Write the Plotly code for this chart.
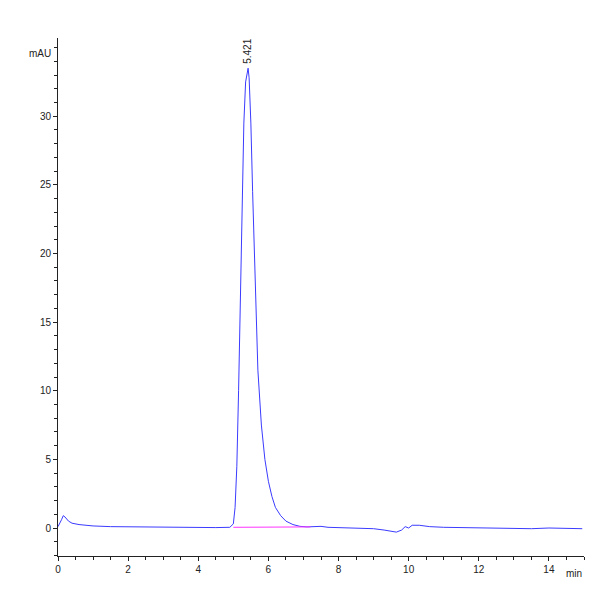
import plotly.graph_objects as go

time_min = [0.0, 0.05, 0.1, 0.15, 0.2, 0.3, 0.4, 0.6, 0.8, 1.0, 1.5, 2.0, 3.0, 4.0, 4.5, 4.9, 5.0, 5.05, 5.1, 5.15, 5.2, 5.25, 5.3, 5.35, 5.4, 5.421, 5.45, 5.5, 5.55, 5.6, 5.65, 5.7, 5.8, 5.9, 6.0, 6.1, 6.2, 6.35, 6.5, 6.7, 6.9, 7.1, 7.3, 7.5, 7.7, 8.0, 8.5, 9.0, 9.3, 9.5, 9.65, 9.8, 9.9, 10.0, 10.1, 10.3, 10.6, 11.0, 12.0, 13.0, 13.5, 14.0, 14.5, 14.95]
signal_mau = [0.1, 0.3, 0.6, 0.9, 0.8, 0.5, 0.35, 0.25, 0.2, 0.15, 0.1, 0.08, 0.05, 0.05, 0.03, 0.05, 0.3, 1.5, 4.5, 10.0, 17.0, 24.0, 29.5, 32.5, 33.4, 33.5, 32.8, 29.5, 24.5, 19.5, 15.0, 11.5, 7.5, 5.0, 3.4, 2.3, 1.5, 0.9, 0.5, 0.25, 0.12, 0.08, 0.1, 0.12, 0.05, 0.02, 0.0, -0.05, -0.15, -0.25, -0.3, -0.15, 0.1, 0.0, 0.2, 0.2, 0.1, 0.05, 0.03, 0.0, -0.05, 0.0, -0.05, -0.05]
baseline_t = [5.0, 7.2]
baseline_v = [0.05, 0.08]
peak_label = "5.421"
peak_t = 5.421
peak_v = 33.5

fig = go.Figure()
fig.add_trace(go.Scatter(x=time_min, y=signal_mau, mode="lines",
                         line=dict(color="#3b3bff", width=1), hoverinfo="skip"))
fig.add_trace(go.Scatter(x=baseline_t, y=baseline_v, mode="lines",
                         line=dict(color="#ff33ff", width=1), hoverinfo="skip"))
fig.add_annotation(x=peak_t, y=peak_v, text=peak_label, textangle=-90, showarrow=False,
                   yanchor="bottom", xanchor="center", yshift=2,
                   font=dict(family="Arial", size=10, color="#222"))
fig.add_annotation(xref="paper", yref="paper", x=0, y=0.985, text="mAU", showarrow=False,
                   xanchor="right", xshift=-5, font=dict(family="Arial", size=10, color="#222"))
fig.add_annotation(xref="paper", yref="paper", x=1, y=0, text="min", showarrow=False,
                   xanchor="right", yanchor="top", yshift=-10, font=dict(family="Arial", size=10, color="#222"))

axis_common = dict(showgrid=False, zeroline=False, showline=True, linecolor="#222", linewidth=1,
                   ticks="outside", ticklen=4, tickcolor="#222", automargin=False,
                   tickfont=dict(family="Arial", size=10, color="#222"))
fig.update_xaxes(range=[0, 15.0], tickvals=[0, 2, 4, 6, 8, 10, 12, 14],
                 minor=dict(dtick=0.5, ticks="outside", ticklen=3, tickcolor="#222"), **axis_common)
fig.update_yaxes(range=[-2.04, 35.7], tickvals=[0, 5, 10, 15, 20, 25, 30],
                 minor=dict(dtick=1, ticks="outside", ticklen=3, tickcolor="#222"), **axis_common)
fig.update_layout(width=600, height=600, showlegend=False, plot_bgcolor="white", paper_bgcolor="white",
                  margin=dict(l=50, r=24, t=30, b=52, autoexpand=False))
fig.write_html("out.html")
